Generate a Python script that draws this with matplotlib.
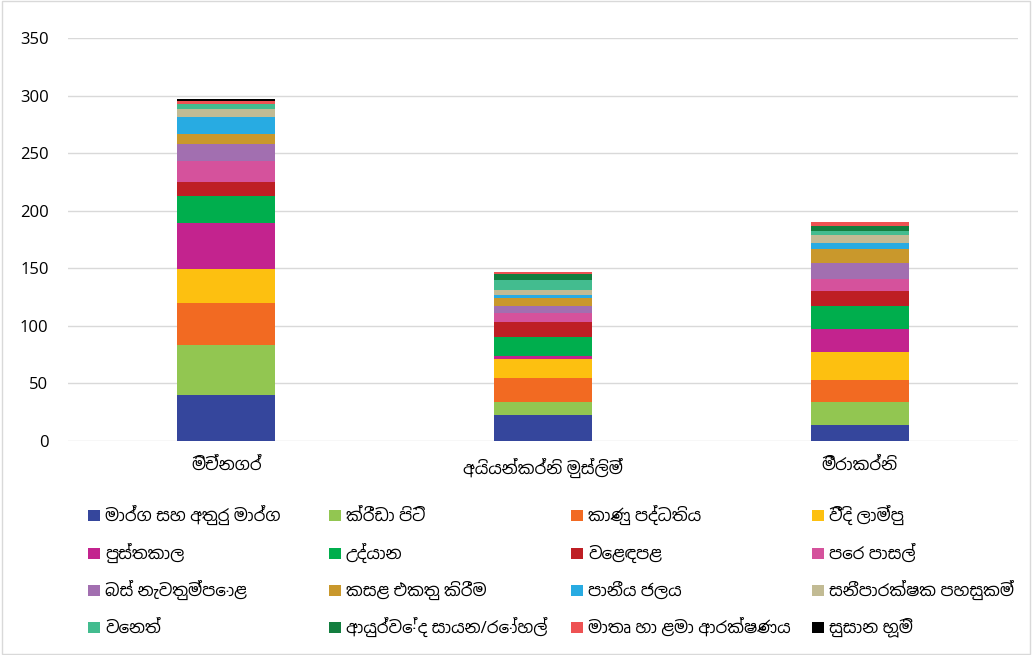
import matplotlib
matplotlib.use("Agg")
import numpy as np
import matplotlib.pyplot as plt
from matplotlib import font_manager
from matplotlib.ft2font import FT2Font
from matplotlib.patches import Rectangle

# villages on the x axis
villages = ["මිච්නගර්", "අයියන්කර්නි මුස්ලිම්", "මීරාකර්නි"]

# facility types, bottom of the stack first
facilities = [
    "මාර්ග සහ අතුරු මාර්ග", "ක්රීඩා පිටි", "කාණු පද්ධතිය", "වීදි ලාම්පු",
    "පුස්තකාල", "උද්යාන", "වෙළඳපළ", "පෙර පාසල්",
    "බස් නැවතුම්පොළ", "කසළ එකතු කිරීම", "පානීය ජලය", "සනීපාරක්ෂක පහසුකම්",
    "වෙනත්", "ආයුර්වේද සායන/රෝහල්", "මාතෘ හා ළමා ආරක්ෂණය", "සුසාන භූමි",
]

# one value per village for each facility
roads      = [40, 23, 14]
grounds    = [43, 11, 20]
drains     = [37, 21, 19]
lamps      = [29, 16, 24]
libraries  = [40, 3, 20]
parks      = [24, 16, 20]
markets    = [12, 13, 13]
preschools = [18, 8, 11]
bus_stops  = [15, 6, 14]
garbage    = [9, 7, 12]
water      = [14, 3, 5]
sanitation = [7, 4, 7]
other      = [5, 9, 3]
ayurveda   = [0, 5, 5]
maternal   = [2, 2, 3]
cemetery   = [2, 0, 0]

series = [roads, grounds, drains, lamps, libraries, parks, markets, preschools,
          bus_stops, garbage, water, sanitation, other, ayurveda, maternal, cemetery]

colors = ["#35469C", "#92C651", "#F26A22", "#FDC010",
          "#C3238E", "#00AE4D", "#BE1E24", "#D5529C",
          "#A26FB0", "#C9982C", "#28ABE2", "#C2BB94",
          "#43BC8F", "#137E3F", "#EE5253", "#000000"]


def sinhala_family():
    # pick an installed font that carries Sinhala glyphs, sans faces first
    found = []
    for f in font_manager.fontManager.ttflist:
        try:
            if 0x0DB8 in FT2Font(f.fname).get_charmap():
                found.append(f.name)
        except Exception:
            pass
    if not found:
        return None

    def rank(name):
        n = name.lower()
        return ("sinhala" not in n, "mono" in n, "sans" not in n, name)
    return sorted(set(found), key=rank)[0]


fam = sinhala_family()
families = ["Open Sans", fam] if fam else ["Open Sans", "DejaVu Sans"]
plt.rcParams["font.family"] = families

W, H = 1032, 655
fig = plt.figure(figsize=(W / 100, H / 100), dpi=100)
ax = fig.add_axes([68 / W, 1 - 441 / H, 950 / W, 403 / H])

x = np.arange(len(villages))
bottom = np.zeros(len(villages))
for vals, col, name in zip(series, colors, facilities):
    ax.bar(x, vals, 0.31, bottom=bottom, color=col, label=name, zorder=3)
    bottom += np.array(vals)

ax.set_xlim(-0.5, 2.5)
ax.set_ylim(0, 350)
ax.set_yticks(range(0, 351, 50))
ax.set_xticks(x)
ax.set_xticklabels(villages, fontsize=12)
ax.tick_params(axis="y", labelsize=12, length=0, pad=14)
ax.tick_params(axis="x", length=0, pad=12)
ax.grid(axis="y", color="#D9D9D9", linewidth=1, zorder=0)
for s in ax.spines.values():
    s.set_visible(False)

# legend: 4 columns, filled row by row, rows kept on a fixed grid
col_x = [88, 329, 571, 812]
row_y = [515, 553, 590, 627]
for i, (name, col) in enumerate(zip(facilities, colors)):
    px, py = col_x[i % 4], row_y[i // 4]
    fig.add_artist(Rectangle((px / W, 1 - (py + 5.5) / H), 12 / W, 11 / H,
                             transform=fig.transFigure, facecolor=col,
                             edgecolor="none"))
    fig.text((px + 17) / W, 1 - (py + 5.5) / H, name, fontsize=12,
             ha="left", va="baseline")

# thin frame round the whole chart
fig.add_artist(Rectangle((0.002, 0.002), 0.996, 0.996, transform=fig.transFigure,
                         fill=False, edgecolor="#D9D9D9", linewidth=1))

fig.savefig("out.png", dpi=100)
